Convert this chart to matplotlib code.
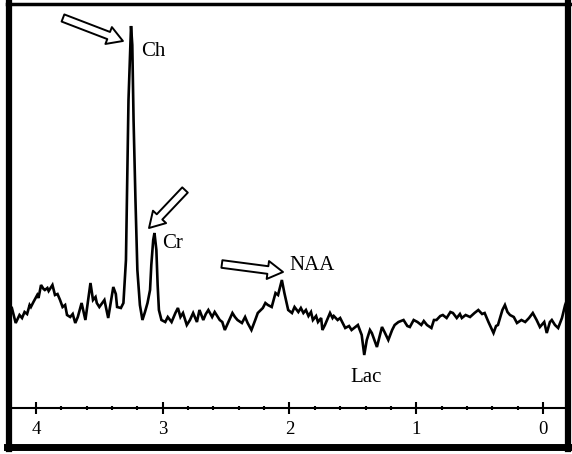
import matplotlib
matplotlib.use('Agg')
import matplotlib.pyplot as plt
from matplotlib.lines import Line2D
from matplotlib.ticker import MultipleLocator

# chemical shift (ppm) and signal intensity (arbitrary units)
ppm = [4.19, 4.16, 4.13, 4.11, 4.09, 4.07, 4.05, 4.04, 4.02, 3.99, 3.98, 3.96, 3.94, 3.93,
       3.91, 3.90, 3.87, 3.85, 3.83, 3.81, 3.79, 3.77, 3.755, 3.73, 3.71, 3.69, 3.67, 3.64,
       3.61, 3.57, 3.55, 3.53, 3.52, 3.50, 3.46, 3.43, 3.39, 3.37, 3.36, 3.33, 3.31, 3.29,
       3.28, 3.27, 3.255, 3.25, 3.24, 3.23, 3.215, 3.20, 3.18, 3.16, 3.14, 3.12, 3.10, 3.09,
       3.075, 3.065, 3.05, 3.04, 3.03, 3.01, 2.98, 2.96, 2.93, 2.90, 2.88, 2.86, 2.84, 2.81,
       2.785, 2.76, 2.73, 2.71, 2.68, 2.66, 2.64, 2.61, 2.59, 2.55, 2.53, 2.51, 2.485, 2.45,
       2.43, 2.41, 2.375, 2.35, 2.33, 2.30, 2.27, 2.25, 2.21, 2.19, 2.17, 2.14, 2.11, 2.09,
       2.06, 2.04, 2.01, 1.98, 1.96, 1.93, 1.91, 1.89, 1.87, 1.85, 1.83, 1.815, 1.79, 1.775,
       1.75, 1.74, 1.72, 1.68, 1.66, 1.65, 1.62, 1.60, 1.56, 1.53, 1.51, 1.48, 1.46, 1.43,
       1.41, 1.39, 1.365, 1.35, 1.31, 1.27, 1.25, 1.22, 1.19, 1.17, 1.14, 1.10, 1.07, 1.05,
       1.02, 0.99, 0.96, 0.94, 0.915, 0.88, 0.86, 0.84, 0.81, 0.79, 0.76, 0.73, 0.71, 0.68,
       0.655, 0.64, 0.61, 0.575, 0.54, 0.51, 0.48, 0.46, 0.43, 0.39, 0.37, 0.355, 0.32, 0.30,
       0.28, 0.26, 0.23, 0.205, 0.17, 0.14, 0.11, 0.08, 0.05, 0.024, -0.01, -0.03, -0.055,
       -0.07, -0.095, -0.12, -0.15, -0.175, -0.19]
signal = [100, 85, 93, 90, 96, 94, 103, 101, 106, 113, 110, 123, 119, 118,
          120, 117, 123, 113, 114, 108, 101, 103, 93, 91, 94, 85, 91, 105,
          88, 125, 108, 111, 105, 101, 108, 90, 121, 114, 101, 100, 105, 148,
          228, 308, 363, 382, 363, 288, 208, 138, 103, 88, 96, 105, 118, 143,
          168, 175, 158, 123, 98, 88, 86, 91, 86, 95, 100, 91, 95, 83,
          88, 95, 86, 98, 88, 94, 98, 91, 96, 88, 86, 78, 85, 95,
          91, 88, 85, 91, 85, 78, 88, 95, 100, 105, 103, 101, 115, 113,
          128, 115, 98, 95, 101, 96, 100, 95, 98, 92, 96, 88, 92, 86,
          90, 78, 83, 95, 90, 92, 88, 90, 80, 82, 78, 81, 83, 73,
          53, 68, 78, 75, 61, 81, 76, 68, 78, 83, 86, 88, 82, 81,
          88, 86, 83, 87, 83, 80, 88, 88, 92, 93, 90, 96, 95, 90,
          94, 90, 93, 91, 95, 98, 94, 95, 86, 75, 82, 83, 98, 103,
          96, 93, 91, 85, 88, 86, 90, 95, 88, 81, 86, 75, 86,
          88, 83, 80, 90, 103, 108]

labels = ['Ch', 'Cr', 'NAA', 'Lac']
label_pos = [(3.17, 356), (3.005, 164), (2.00, 143), (1.395, 31)]
arrow_tips = [(3.314, 367), (3.108, 180), (2.051, 136)]
arrow_tails = [(3.787, 390), (2.824, 218), (2.533, 144)]

fig = plt.figure(figsize=(5.72, 4.54), dpi=100)
W, H = 572, 454
ax = fig.add_axes([11 / W, (H - 408) / H, 554 / W, 404 / H])

ax.plot(ppm, signal, color='black', lw=1.9, solid_joinstyle='miter')
ax.set_xlim(4.197, -0.174)
ax.set_ylim(0, 404)

for s in ['left', 'right', 'top']:
    ax.spines[s].set_visible(False)
ax.spines['bottom'].set_linewidth(1.5)
ax.set_yticks([])
ax.xaxis.set_major_locator(MultipleLocator(1))
ax.xaxis.set_minor_locator(MultipleLocator(0.2))
ax.tick_params(axis='x', which='major', direction='inout', length=9, width=1.5,
               pad=5, labelsize=13.5)
ax.tick_params(axis='x', which='minor', direction='inout', length=3, width=1.5)
for t in ax.get_xticklabels():
    t.set_fontfamily('Liberation Serif')

for (tx, ty), (hx, hy) in zip(arrow_tails, arrow_tips):
    ax.annotate('', xy=(hx, hy), xytext=(tx, ty),
                arrowprops=dict(arrowstyle='simple,head_width=1.3,head_length=1.1,tail_width=0.55',
                                fc='white', ec='black', lw=1.4, shrinkA=0, shrinkB=0))

for lab, (lx, ly) in zip(labels, label_pos):
    ha = 'center' if lab == 'Lac' else 'left'
    ax.text(lx, ly, lab, ha=ha, va='center', fontsize=15, family='Liberation Serif')

# outer frame
fig.add_artist(Line2D([9 / W, 9 / W], [1 - 2 / H, 1 - 449 / H], color='black', lw=4.5))
fig.add_artist(Line2D([568 / W, 568 / W], [1 - 2 / H, 1 - 449 / H], color='black', lw=4.5))
fig.add_artist(Line2D([7 / W, 570 / W], [1 - 447 / H, 1 - 447 / H], color='black', lw=5))
fig.add_artist(Line2D([7 / W, 570 / W], [1 - 3.5 / H, 1 - 3.5 / H], color='black', lw=2.5))

fig.savefig('out.png', dpi=100)
